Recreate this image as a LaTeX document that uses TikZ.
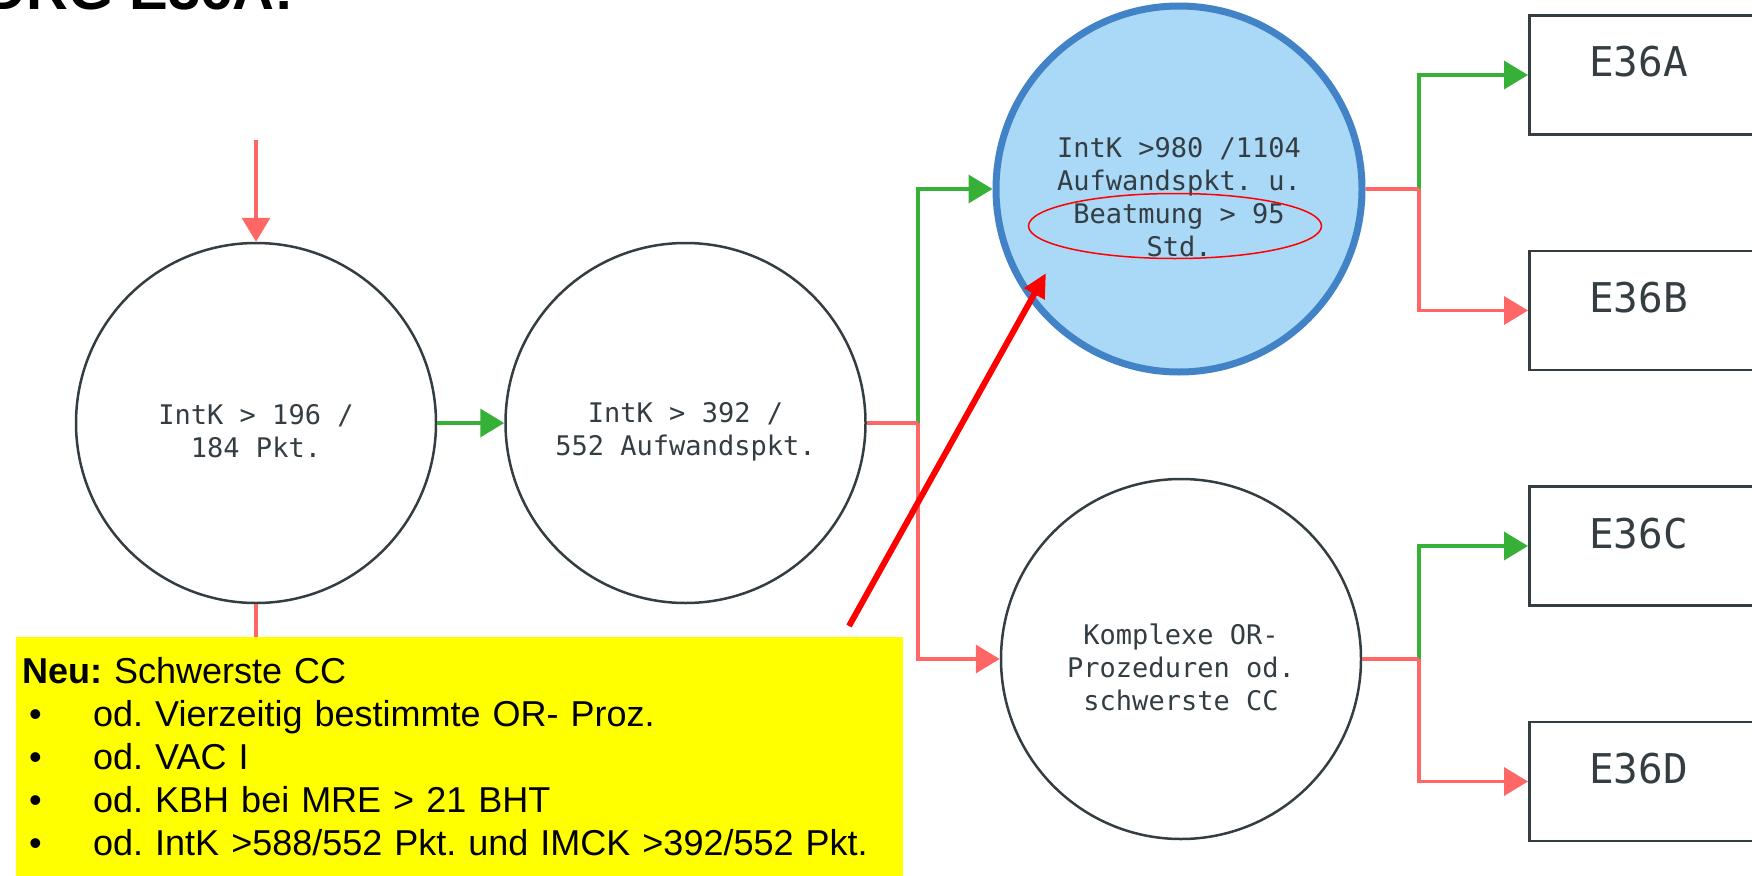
\documentclass[tikz,border=0pt]{standalone}
\usepackage{fontspec}
\setmainfont{Liberation Sans}
\setmonofont{DejaVu Sans Mono}
\usepackage{tikz}
\usetikzlibrary{positioning,shapes,arrows.meta}
\definecolor{lred}{RGB}{255,102,102}
\definecolor{lgreen}{RGB}{54,176,54}
\definecolor{cborder}{RGB}{51,61,66}
\definecolor{bfill}{RGB}{170,216,247}
\definecolor{bline}{RGB}{66,130,198}
\definecolor{notefill}{RGB}{255,255,0}
\newcommand{\toppad}{\rule{0pt}{37pt}}
\newcommand{\bul}{\makebox[71pt][l]{\hspace{7pt}\textbullet}}
\tikzset{
	state/.style={shape=circle,draw=cborder,line width=2.5pt,minimum size=360pt,inner sep=0pt,align=center,text=cborder,font=\ttfamily\fontsize{27}{33}\selectfont},
	result/.style={draw=cborder,line width=2.5pt,minimum height=119pt,text width=200pt,inner xsep=60pt,inner ysep=0pt,align=left,text height=30pt,text depth=26pt,text=cborder,font=\ttfamily\fontsize{41}{41}\selectfont,anchor=west},
	yes/.style={draw=lgreen,line width=3.5pt,-{Triangle[width=28pt,length=24pt]}},
	no/.style={draw=lred,line width=3.5pt,-{Triangle[width=28pt,length=24pt]}},
	noline/.style={draw=lred,line width=3.5pt},
}
\begin{document}
\begin{tikzpicture}[x=1pt,y=-1pt]
		\useasboundingbox (0,0) rectangle (1752,875);
		\node(title) [anchor=base west,font=\bfseries\fontsize{58}{58}\selectfont] at (-19,10) {DRG E36A:};
		\node(1) [state] at (256,423) {\toppad IntK > 196 /\\184 Pkt.};
		\node(2) [state,right=67pt of 1] {\toppad IntK > 392 /\\552 Aufwandspkt.};
		\node(3) [state,draw=bline,fill=bfill,line width=7pt,minimum size=366pt] at (1179,189) {\toppad IntK >980 /1104\\Aufwandspkt. u.\\Beatmung > 95\\Std.};
		\node(4) [state] at (1181,659) {\toppad Komplexe OR-\\Prozeduren od.\\schwerste CC};
		\node(A) [result] at (1528,75) {E36A};
		\node(B) [result,below=114pt of A.south west,anchor=north west] {E36B};
		\node(C) [result,below=114pt of B.south west,anchor=north west] {E36C};
		\node(D) [result,below=114pt of C.south west,anchor=north west] {E36D};
		\node(ring) [ellipse,draw=red,line width=1.5pt,minimum width=293pt,minimum height=65pt,inner sep=0pt] at (1175,226) {};
		\coordinate (in) at (256,140);
		\coordinate (out) at (256,660);
		\coordinate (j1) at (918,423);
		\coordinate (j2) at (1419,189);
		\coordinate (j3) at (1419,659);
		\draw[no] (in) -- (1.north);
		\draw[noline] (1.south) -- (out);
		\draw[yes] (1) -- (2);
		\draw[yes] (j1) |- (3);
		\draw[no] (j1) |- (4);
		\draw[noline] (2) -- (j1);
		\draw[yes] (j2) |- (A);
		\draw[no] (j2) |- (B);
		\draw[noline] (3) -- (j2);
		\draw[yes] (j3) |- (C);
		\draw[no] (j3) |- (D);
		\draw[noline] (4) -- (j3);
		\node(note) [anchor=north west,fill=notefill,minimum width=887pt,text width=875pt,inner xsep=6pt,inner ysep=20pt,align=left,font=\frenchspacing\fontsize{36}{43}\selectfont] at (16,637) {\textbf{Neu:} Schwerste CC\\
			\bul od. Vierzeitig bestimmte OR- Proz.\\
			\bul od. VAC I\\
			\bul od. KBH bei MRE > 21 BHT\\
			\bul od. IntK >588/552 Pkt. und IMCK >392/552 Pkt.};
		\coordinate (tail) at (849,626);
		\coordinate (tip) at (1046,273);
		\draw[red,line width=6pt,-{Triangle[width=22pt,length=24pt]}] (tail) -- (tip);
	\end{tikzpicture}
\end{document}
